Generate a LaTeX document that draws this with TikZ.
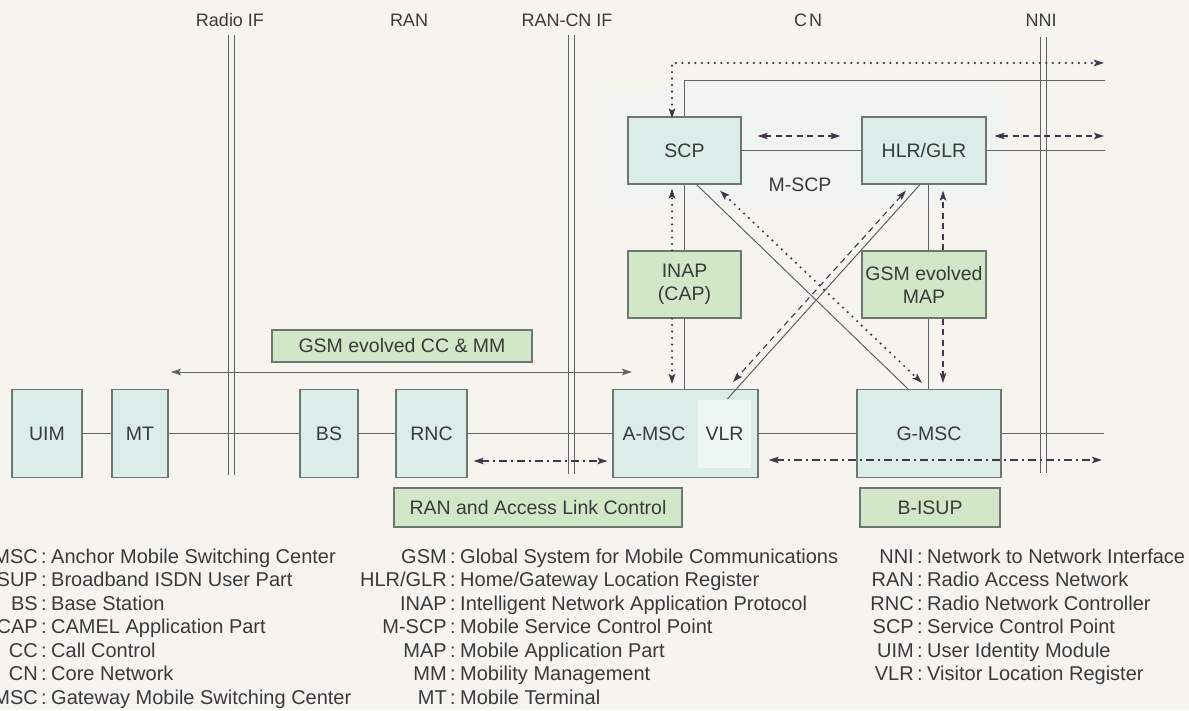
\documentclass[tikz,border=0pt]{standalone}
\usepackage{fontspec}
\setmainfont{Liberation Sans}
\usetikzlibrary{arrows.meta,calc}

\definecolor{paper}{HTML}{F5F4EF}
\definecolor{cyanbox}{HTML}{DAEDE8}
\definecolor{greenbox}{HTML}{D2E7C7}
\definecolor{edge}{HTML}{6F7570}
\definecolor{wire}{HTML}{5F6360}
\definecolor{sig}{HTML}{43364A}
\definecolor{ink}{HTML}{3A3A3A}
\definecolor{vlrfill}{HTML}{EEF7F4}
\definecolor{mscpzone}{HTML}{F0F5F2}

% one line of the abbreviation list: name, colon x, baseline y, abbreviation, meaning
\newcommand{\glossrow}[5]{%
  \node[gloss, anchor=base east] (#1a) at (#2-6,#3) {#4};
  \node[gloss, anchor=base] (#1c) at (#2,#3) {:};
  \node[gloss, anchor=base west] (#1t) at (#2+7,#3) {#5};
}

\begin{document}
\begin{tikzpicture}[x=1pt,y=-1pt,
  every node/.style={text=ink},
  unit/.style={draw=edge, line width=1.1pt, fill=cyanbox, inner sep=0pt,
    align=center, font=\fontsize{19.5}{23}\selectfont},
  proto/.style={draw=edge, line width=1.1pt, fill=greenbox, inner sep=0pt,
    align=center, font=\fontsize{19.5}{23}\selectfont},
  gloss/.style={inner sep=0pt, font=\fontsize{20}{23}\selectfont},
  head/.style={inner sep=0pt, font=\fontsize{18}{22}\selectfont},
  link/.style={draw=wire, line width=1pt},
  ifline/.style={draw=wire, line width=0.9pt},
  sigdot/.style={draw=sig, line width=2.4pt, line cap=round, dash pattern=on 0pt off 6.5pt},
  sigdash/.style={draw=sig, line width=1.1pt, dash pattern=on 6pt off 4.5pt},
  sigdashdot/.style={draw=sig, line width=1.5pt, dash pattern=on 8pt off 4pt on 2pt off 4pt},
  fwd/.style={-{Stealth[length=10pt,width=6.5pt,inset=2pt]}},
  both/.style={{Stealth[length=10pt,width=6.5pt,inset=2pt]}-{Stealth[length=10pt,width=6.5pt,inset=2pt]}},
]
\useasboundingbox (0,0) rectangle (1189,710);
\fill[paper] (0,0) rectangle (1189,710);
\clip (0,0) rectangle (1189,710);

% pale zone of the mobile service control point
\fill[mscpzone] (603,90) rectangle (1003,205);

% interface boundaries
\draw[ifline] (228,35) -- (228,475) (234,35) -- (234,475);
\draw[ifline] (568,35) -- (568,474) (574,35) -- (574,474);
\draw[ifline] (1040,37) -- (1040,473) (1046,37) -- (1046,473);

\node[head] (hRadio) at (230,20) {Radio IF};
\node[head] (hRan)   at (409,20) {RAN};
\node[head] (hRanCn) at (567,20) {RAN-CN IF};
\node[head] (hCn)    at (808,20) {C\kern2pt N};
\node[head] (hNni)   at (1041,20) {NNI};

% network elements
\node[unit, minimum width=70pt, minimum height=88pt] (uim) at (47,433.5) {UIM};
\node[unit, minimum width=56pt, minimum height=88pt] (mt) at (140,433.5) {MT};
\node[unit, minimum width=58pt, minimum height=88pt] (bs) at (329,433.5) {BS};
\node[unit, minimum width=71pt, minimum height=88pt] (rnc) at (431.5,433.5) {RNC};
\node[unit, minimum width=145pt, minimum height=88pt] (amsc) at (685.5,433.5) {};
\node[inner sep=0pt, fill=vlrfill, minimum width=53pt, minimum height=68pt,
  font=\fontsize{19.5}{23}\selectfont] (vlr) at (724.5,434) {VLR};
\node[inner sep=0pt, font=\fontsize{19.5}{23}\selectfont] (amscLabel) at (654,434) {A-MSC};
\node[unit, minimum width=144pt, minimum height=88pt] (gmsc) at (929,433.5) {G-MSC};

\node[unit, minimum width=113pt, minimum height=67pt] (scp) at (684.5,150.5) {SCP};
\node[unit, minimum width=124pt, minimum height=67pt] (hlr) at (924,150.5) {HLR/GLR};
\node[inner sep=0pt, font=\fontsize{19.5}{23}\selectfont] (mscp) at (800,185) {M-SCP};

% protocols
\node[proto, minimum width=113pt, minimum height=67pt] (inap) at (684.5,284.5) {INAP\\(CAP)};
\node[proto, minimum width=124pt, minimum height=67pt] (map) at (924,284.5) {GSM evolved\\MAP};
\node[proto, minimum width=260pt, minimum height=32pt] (ccmm) at (402,346) {GSM evolved CC \& MM};
\node[proto, minimum width=288pt, minimum height=39pt] (ralc) at (538,507.5) {RAN and Access Link Control};
\node[proto, minimum width=140pt, minimum height=39pt] (bisup) at (930,507.5) {B-ISUP};

% free ends toward the neighbouring network
\coordinate (dotEnd) at (1104,63);
\coordinate (topEnd) at (1105,80);
\coordinate (hlrDashEnd) at (1104,136);
\coordinate (hlrEnd) at (1105,150.5);
\coordinate (userEnd) at (1104,433.5);
\coordinate (bisupEnd) at (1102,460);
\coordinate (ccLeft) at (171,372);
\coordinate (ccRight) at (632,372);

% bearer path
\draw[link] (uim) -- (mt);
\draw[link] (mt) -- (bs);
\draw[link] (bs) -- (rnc);
\draw[link] (rnc) -- (amsc);
\draw[link] (amsc) -- (gmsc);
\draw[link] (gmsc.east) -- (userEnd);

% control plane links
\draw[link] (scp.north) |- (topEnd);
\draw[link] (scp) -- (hlr);
\draw[link] (hlr.east) -- (hlrEnd);
\draw[link] (scp.south) -- (inap.north);
\draw[link] (inap.south) -- (inap.south |- amsc.north);
\draw[link] ([xshift=4pt]hlr.south) -- ([xshift=4pt]map.north);
\draw[link] ([xshift=4pt]map.south) -- ([xshift=4pt]map.south |- gmsc.north);
\draw[link] ([xshift=12pt]scp.south) -- ([xshift=-21pt]gmsc.north);
\draw[link] ([xshift=-4pt]hlr.south) -- ($(vlr.north)+(3,-1)$);

% signalling flows
\draw[sigdot, both] ([xshift=-12.5pt, yshift=-2pt]scp.north) |- (dotEnd);
\draw[sigdot, fwd] ([xshift=-12.5pt]inap.north) -- ($(scp.south)+(-12.5,4)$);
\draw[sigdot, fwd] ([xshift=-12.5pt]inap.south) -- ($(inap.south |- amsc.north)+(-12.5,-5)$);
\draw[sigdot, both] ($(scp.south)+(35.5,6)$) -- ($(gmsc.north)+(-7,-6)$);

\draw[sigdash, both] ($(scp.east)+(16,-14.5)$) -- ($(hlr.west)+(-21,-14.5)$);
\draw[sigdash, both] ($(hlr.east)+(8,-14.5)$) -- (hlrDashEnd);
\draw[sigdash, fwd] ($(map.north)+(19,0)$) -- ($(hlr.south)+(19,6)$);
\draw[sigdash, fwd] ($(map.south)+(19,0)$) -- ($(gmsc.north)+(14,-6)$);
\draw[sigdash, both] ($(hlr.south)+(-18,6)$) -- ($(amsc.north)+(47.5,-7)$);

\draw[link, both] (ccLeft) -- (ccRight);
\draw[sigdashdot, both] ($(rnc.east)+(6,27.5)$) -- ($(amsc.west)+(-5,27.5)$);
\draw[sigdashdot, both] ($(amsc.east)+(10,26.5)$) -- (bisupEnd);

% abbreviations
\glossrow{ga}{44}{563}{A-MSC}{Anchor Mobile Switching Center}
\glossrow{gb}{44}{586.5}{B-ISUP}{Broadband ISDN User Part}
\glossrow{gc}{44}{610}{BS}{Base Station}
\glossrow{gd}{44}{633.5}{CAP}{CAMEL Application Part}
\glossrow{ge}{44}{657}{CC}{Call Control}
\glossrow{gf}{44}{680.5}{CN}{Core Network}
\glossrow{gg}{44}{704}{G-MSC}{Gateway Mobile Switching Center}

\glossrow{gh}{453}{563}{GSM}{Global System for Mobile Communications}
\glossrow{gi}{453}{586.5}{HLR/GLR}{Home/Gateway Location Register}
\glossrow{gj}{453}{610}{INAP}{Intelligent Network Application Protocol}
\glossrow{gk}{453}{633.5}{M-SCP}{Mobile Service Control Point}
\glossrow{gl}{453}{657}{MAP}{Mobile Application Part}
\glossrow{gm}{453}{680.5}{MM}{Mobility Management}
\glossrow{gn}{453}{704}{MT}{Mobile Terminal}

\glossrow{go}{920}{563}{NNI}{Network to Network Interface}
\glossrow{gp}{920}{586.5}{RAN}{Radio Access Network}
\glossrow{gq}{920}{610}{RNC}{Radio Network Controller}
\glossrow{gr}{920}{633.5}{SCP}{Service Control Point}
\glossrow{gs}{920}{657}{UIM}{User Identity Module}
\glossrow{gt}{920}{680.5}{VLR}{Visitor Location Register}
\end{tikzpicture}
\end{document}
